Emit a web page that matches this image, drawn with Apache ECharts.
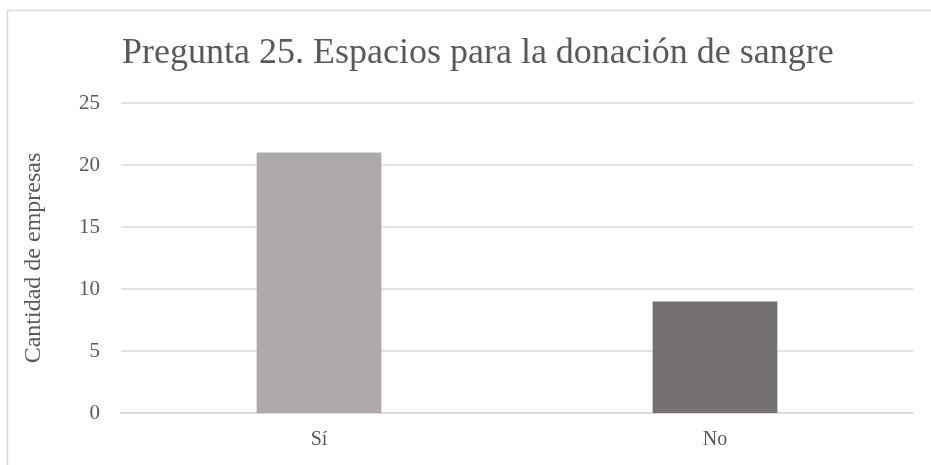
<!DOCTYPE html>
<html>
<head>
<meta charset="utf-8">
<title>Pregunta 25</title>
<script src="https://cdn.jsdelivr.net/npm/echarts@6/dist/echarts.min.js"></script>
<style>
  html, body { margin: 0; padding: 0; background: #fff; }
  #chart { width: 931px; height: 465px; }
</style>
</head>
<body>
<div id="chart"></div>
<script>
// datos
const categorias = ['Sí', 'No']
const empresas = [21, 9]
const colores = ['#AEAAAA', '#767171']
const ticksY = [0, 5, 10, 15, 20, 25]

const fuente = "'Liberation Serif', 'Times New Roman', serif"

const chart = echarts.init(document.getElementById('chart'))

chart.setOption({
  animation: false,
  title: {
    text: 'Pregunta 25. Espacios para la donación de sangre',
    left: 117,
    top: 31,
    textStyle: {
      fontFamily: fuente,
      fontSize: 36,
      fontWeight: 'normal',
      color: '#595959'
    }
  },
  graphic: [{
    type: 'rect',
    shape: { x: 7.5, y: 10.5, width: 1000, height: 1000 },
    style: { fill: 'none', stroke: '#D9D9D9', lineWidth: 1.5 },
    silent: true
  }],
  grid: {
    left: 121,
    right: 18,
    top: 103,
    bottom: 52
  },
  xAxis: {
    type: 'category',
    data: categorias,
    axisLine: { lineStyle: { color: '#D9D9D9', width: 1.5 } },
    axisTick: { show: false },
    axisLabel: {
      fontFamily: fuente,
      fontSize: 20,
      color: '#595959',
      margin: 17
    }
  },
  yAxis: {
    type: 'value',
    min: ticksY[0],
    max: ticksY[ticksY.length - 1],
    interval: 5,
    name: 'Cantidad de empresas',
    nameLocation: 'middle',
    nameGap: 75,
    nameTextStyle: {
      fontFamily: fuente,
      fontSize: 24,
      color: '#595959'
    },
    axisLine: { show: false },
    axisTick: { show: false },
    splitLine: { lineStyle: { color: '#D9D9D9', width: 1.5 } },
    axisLabel: {
      fontFamily: fuente,
      fontSize: 21,
      color: '#595959',
      margin: 21
    }
  },
  series: [{
    type: 'bar',
    barWidth: '31.5%',
    data: empresas.map((v, i) => ({ value: v, itemStyle: { color: colores[i] } }))
  }]
})
</script>
</body>
</html>
